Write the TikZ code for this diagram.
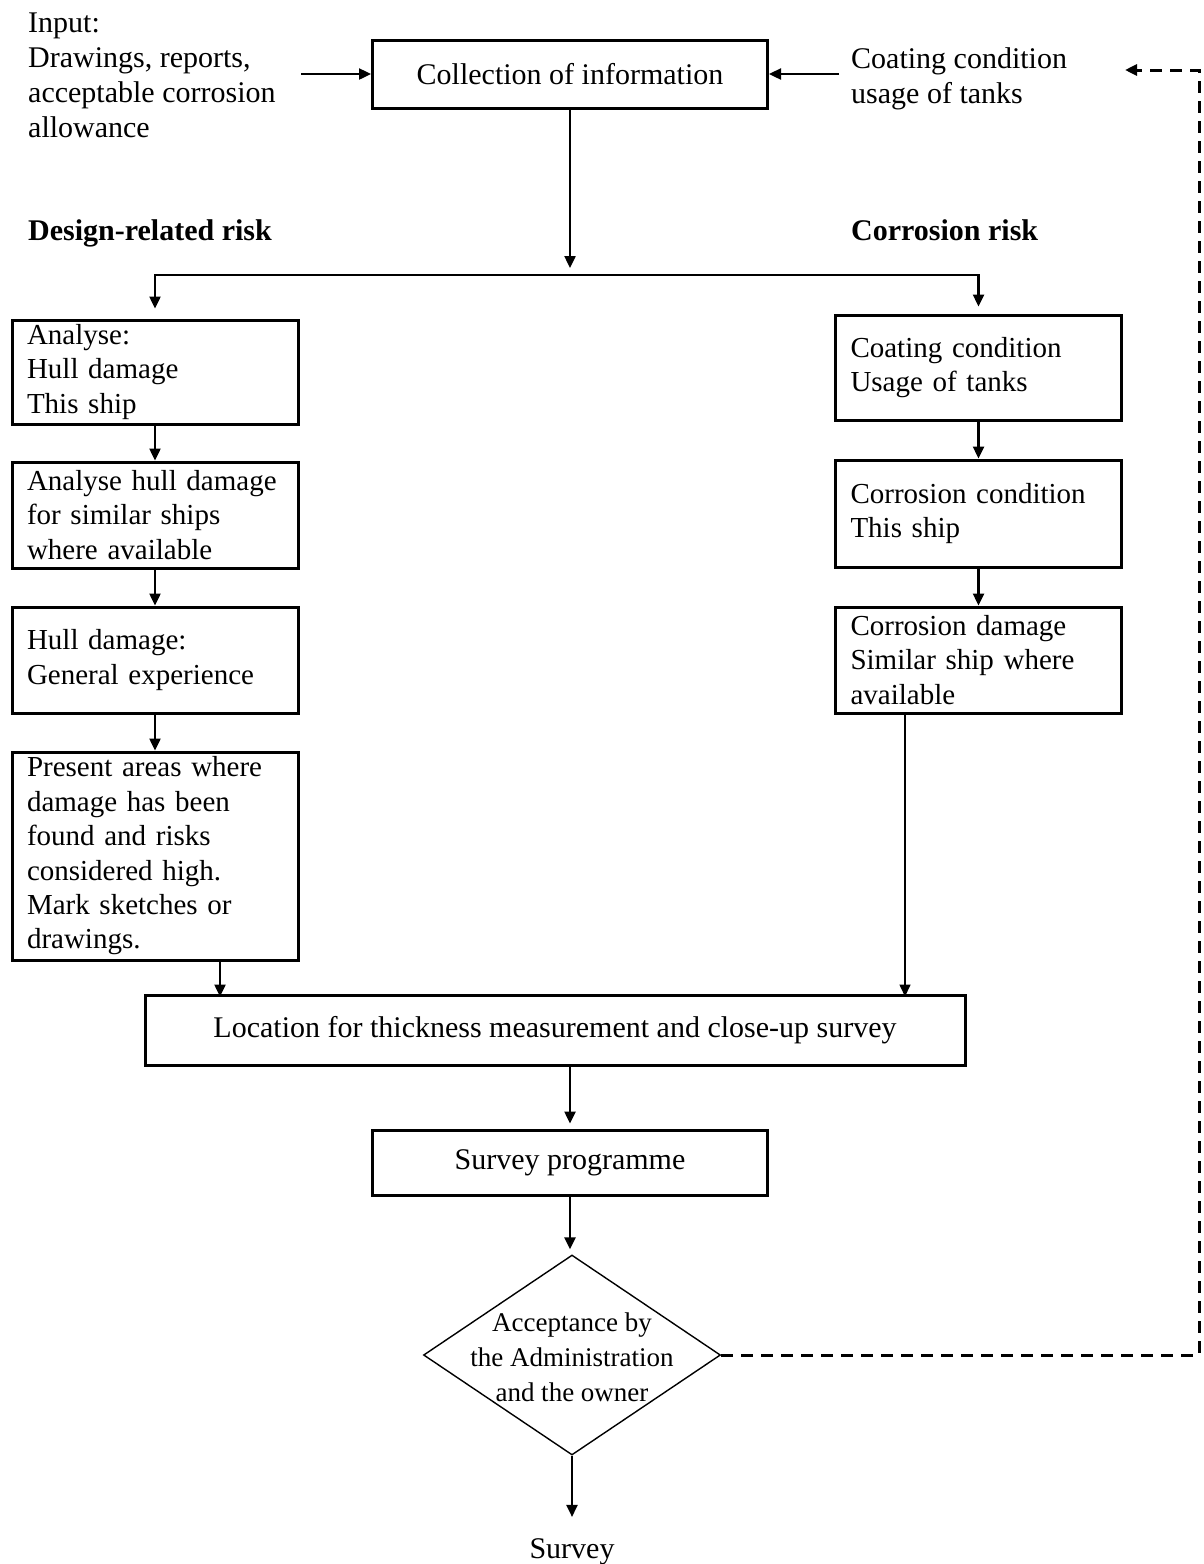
\documentclass[tikz,border=0pt]{standalone}
\usepackage{fontspec}
\setmainfont{Liberation Serif}
\usetikzlibrary{arrows.meta,shapes.geometric}
\newcommand\dsize{\fontsize{15}{17.5}\selectfont}
\newcommand\csize{\fontsize{14.5}{17.2}\selectfont}
\tikzset{
  box/.style={draw,line width=1.5pt,inner sep=0pt,align=center},
  colbox/.style={draw,line width=1.5pt,text width=128pt,inner xsep=7.5pt,inner ysep=0pt,align=left,minimum height=#1,font=\csize},
  note/.style={inner sep=0pt,align=left},
}
\begin{document}
\begin{tikzpicture}[x=0.5pt,y=-0.5pt,->,>={Triangle[length=6pt,width=5.5pt]},line width=1.2pt,font=\dsize]
  \useasboundingbox (0,0) rectangle (1204,1564);
  \node[note,anchor=north west] (input) at (27,12) {Input:\\Drawings, reports,\\acceptable corrosion\\allowance};
  \node[box,minimum width=197.5pt,minimum height=34pt] (collect) at (570,74) {Collection of information};
  \node[note,anchor=north west] (coat) at (850,46) {Coating condition\\usage of tanks};
  \node[note,anchor=base west,font=\dsize\bfseries] (design) at (27,240) {Design-related risk};
  \node[note,anchor=base west,font=\dsize\bfseries] (corr) at (850,240) {Corrosion risk};
  \coordinate (split) at (570,275);
  \node[colbox=52pt] (a1) at (155,372) {Analyse:\\Hull damage\\This ship};
  \node[colbox=53pt] (a2) at (155,515) {Analyse hull damage\\for similar ships\\where available};
  \node[colbox=53pt] (a3) at (155,660) {Hull damage:\\General experience};
  \node[colbox=104pt] (a4) at (155,856) {Present areas where\\damage has been\\found and risks\\considered high.\\Mark sketches or\\drawings.};
  \node[colbox=52.5pt] (b1) at (978.5,367.5) {Coating condition\\Usage of tanks};
  \node[colbox=53.5pt] (b2) at (978.5,513.5) {Corrosion condition\\This ship};
  \node[colbox=53pt] (b3) at (978.5,660) {Corrosion damage\\Similar ship where\\available};
  \node[box,minimum width=410pt,minimum height=35pt] (loc) at (555,1030) {Location for thickness measurement and close-up survey};
  \node[box,minimum width=197.5pt,minimum height=32.5pt] (prog) at (570,1162.5) {Survey programme};
  \node[diamond,draw,line width=0.7pt,inner sep=0pt,minimum width=148.5pt,minimum height=100pt] (accept) at (572,1355) {};
  \node[note,align=center,font=\fontsize{13.5}{17.5}\selectfont] (accepttext) at (572,1357) {Acceptance by\\the Administration\\and the owner};
  \node[note,anchor=base] (survey) at (572,1558) {Survey};
  \coordinate (fbtop) at (1199,70);
  \coordinate (fbk) at (1125,70);
  \draw ([xshift=-35pt]collect.west) -- (collect.west);
  \draw ([xshift=35pt]collect.east) -- (collect.east);
  \draw[shorten >=3.5pt] (collect) -- (split);
  \draw[shorten >=5pt] (split) -| (a1.north);
  \draw[shorten >=3.5pt] (split) -| (b1.north);
  \draw (a1) -- (a2);
  \draw (a2) -- (a3);
  \draw (a3) -- (a4);
  \draw (b1) -- (b2);
  \draw (b2) -- (b3);
  \draw ([xshift=32.5pt]a4.south) -- +(0,35);
  \draw[line width=0.8pt] ([xshift=-36.75pt]b3.south) -- +(0,282);
  \draw[shorten >=2.5pt] (loc.south -| prog.north) -- (prog.north);
  \draw[shorten >=2.5pt] (prog.south) -- (prog.south |- accept.north);
  \draw[shorten >=10pt] (accept) -- (survey);
  \draw[line width=1.5pt,dash pattern=on 6pt off 4pt] (accept.east) -| (fbtop) -- (fbk);
\end{tikzpicture}
\end{document}
